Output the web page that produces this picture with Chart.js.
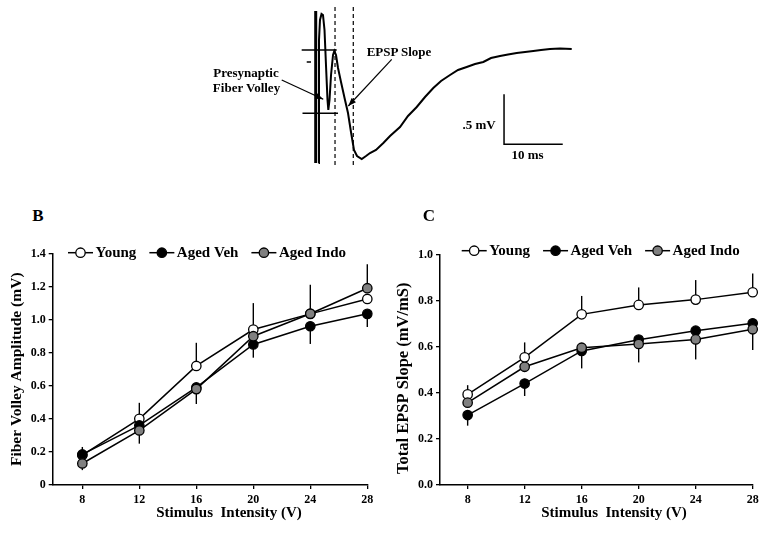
<!DOCTYPE html>
<html>
<head>
<meta charset="utf-8">
<script src="https://cdn.jsdelivr.net/npm/chart.js@4.4.1/dist/chart.umd.min.js"></script>
<style>
  body { margin: 0; background: #fff; }
  #page { position: relative; width: 771px; height: 537px; overflow: hidden;
          font-family: "Liberation Serif", "Times New Roman", serif; font-weight: bold; color: #000; }
  .box { position: absolute; }
  .lbl { position: absolute; white-space: nowrap; line-height: 1; transform: translate(-50%, -50%); }
</style>
</head>
<body>
<div id="page">
  <div class="box" style="left:200px;top:0;width:380px;height:170px"><canvas id="traceChart"></canvas></div>
  <div class="box" style="left:0;top:235px;width:385px;height:302px"><canvas id="fvChart"></canvas></div>
  <div class="box" style="left:385px;top:235px;width:386px;height:302px"><canvas id="slopeChart"></canvas></div>

  <div class="lbl" style="left:246px;top:72px;font-size:13px">Presynaptic</div>
  <div class="lbl" style="left:246.5px;top:87px;font-size:13px">Fiber Volley</div>
  <div class="lbl" style="left:399px;top:51px;font-size:13px">EPSP Slope</div>
  <div class="lbl" style="left:479px;top:124px;font-size:13px">.5 mV</div>
  <div class="lbl" style="left:527.5px;top:154px;font-size:13px">10 ms</div>

  <div class="lbl" style="left:38px;top:214.5px;font-size:17px">B</div>
  <div class="lbl" style="left:429px;top:214.5px;font-size:17px">C</div>
  <div class="lbl" style="left:229px;top:512px;font-size:15px">Stimulus&nbsp; Intensity (V)</div>
  <div class="lbl" style="left:614px;top:512px;font-size:15px">Stimulus&nbsp; Intensity (V)</div>
</div>

<script>
// --- A: example field potential trace (ms, mV) ---
const traceMs = [0.6, 0.68, 0.85, 1.11, 1.36, 1.62, 1.87, 2.13, 2.27, 2.47, 2.73, 3.07, 3.29, 3.58, 3.92,
  4.43, 5.11, 5.62, 6.13, 6.64, 7.16, 7.96, 8.69, 9.37, 10.39, 11.64, 12.78, 14.48, 15.84, 17.33,
  18.74, 20.15, 21.47, 23.0, 24.36, 25.84, 27.26, 28.67, 29.98, 31.52, 32.88, 34.36, 35.78, 37.19,
  38.5, 40.03, 41.74, 43.73];
const traceMv = [-1.15, 0.08, 0.28, 0.34, 0.33, 0.18, -0.17, -0.52, -0.62, -0.52, -0.27, -0.07, -0.03, -0.07, -0.20,
  -0.34, -0.52, -0.65, -0.84, -1.02, -1.08, -1.11, -1.08, -1.05, -1.02, -0.95, -0.88, -0.79, -0.68, -0.59,
  -0.49, -0.40, -0.33, -0.27, -0.22, -0.19, -0.16, -0.14, -0.10, -0.08, -0.065, -0.05, -0.04, -0.03,
  -0.02, -0.01, -0.005, -0.01];
const artifactMs = [0.12, 0.12];
const artifactMv = [0.37, -1.15];
const fvCursorMs = [3.41, 3.41];
const slopeCursorMs = [6.52, 6.52];
const cursorMv = [0.41, -1.17];
const fvTopMs = [-2.27, 3.70];
const fvTopMv = [-0.02, -0.02];
const fvBottomMs = [-2.13, 3.92];
const fvBottomMv = [-0.653, -0.653];
const stimMarkMs = [-1.41, -0.68];
const stimMarkMv = [-0.14, -0.14];
const scaleBarMs = [32.2, 32.2, 42.2];
const scaleBarMv = [-0.463, -0.963, -0.963];
const fvArrowMs = [-5.67, 1.41];
const fvArrowMv = [-0.32, -0.513];
const slopeArrowMs = [13.07, 5.67];
const slopeArrowMv = [-0.113, -0.58];

// --- B and C: input/output curves ---
const intensity = [8, 12, 16, 20, 24, 28];
const xTickValues = [8, 12, 16, 20, 24, 28];
const groups = ['Young', 'Aged Veh', 'Aged Indo'];

const fvYoung = [0.18, 0.40, 0.72, 0.94, 1.035, 1.125];
const fvAgedVeh = [0.185, 0.36, 0.59, 0.85, 0.96, 1.035];
const fvAgedIndo = [0.13, 0.33, 0.58, 0.90, 1.036, 1.19];
// signed error bars: + drawn upward, - drawn downward, 0 none
const fvErrYoung = [0, 0.097, 0.14, 0.16, 0, 0];
const fvErrAgedVeh = [0.045, 0, 0, -0.08, -0.107, -0.08];
const fvErrAgedIndo = [-0.04, -0.08, -0.09, 0, 0.175, 0.145];
const fvTicks = [0, 0.2, 0.4, 0.6, 0.8, 1.0, 1.2, 1.4];

const slopeYoung = [0.394, 0.555, 0.742, 0.783, 0.806, 0.838];
const slopeAgedVeh = [0.304, 0.441, 0.583, 0.632, 0.671, 0.703];
const slopeAgedIndo = [0.358, 0.514, 0.597, 0.613, 0.633, 0.677];
const slopeErrYoung = [0.04, 0.065, 0.08, 0.076, 0.085, 0.082];
const slopeErrAgedVeh = [-0.046, -0.054, -0.076, 0, 0, 0];
const slopeErrAgedIndo = [0, 0, 0, -0.08, -0.087, -0.09];
const slopeTicks = [0, 0.2, 0.4, 0.6, 0.8, 1.0];

Chart.defaults.font.family = '"Liberation Serif", "Times New Roman", serif';
Chart.defaults.font.weight = 'bold';
Chart.defaults.color = '#000';

const zip = (xs, ys) => xs.map((x, i) => ({ x: x, y: ys[i] }));

// arrow heads at the end of datasets flagged with arrow: true
const arrowHeads = {
  id: 'arrowHeads',
  afterDatasetsDraw(chart) {
    const ctx = chart.ctx;
    chart.data.datasets.forEach((ds, i) => {
      if (!ds.arrow) return;
      const pts = chart.getDatasetMeta(i).data;
      const a = pts[pts.length - 2], b = pts[pts.length - 1];
      const ang = Math.atan2(b.y - a.y, b.x - a.x);
      ctx.save();
      ctx.translate(b.x, b.y);
      ctx.rotate(ang);
      ctx.fillStyle = '#000';
      ctx.beginPath();
      ctx.moveTo(0, 0);
      ctx.lineTo(-8, -3);
      ctx.lineTo(-8, 3);
      ctx.closePath();
      ctx.fill();
      ctx.restore();
    });
  }
};

const seg = (ms, mv, extra) => Object.assign({
  data: zip(ms, mv), borderColor: '#000', borderWidth: 1.4, pointRadius: 0, showLine: true, clip: false
}, extra || {});

new Chart(document.getElementById('traceChart'), {
  type: 'scatter',
  data: {
    datasets: [
      seg(traceMs, traceMv, { borderWidth: 2 }),
      seg(artifactMs, artifactMv, { borderWidth: 3 }),
      seg(fvCursorMs, cursorMv, { borderWidth: 1.2, borderDash: [4, 3] }),
      seg(slopeCursorMs, cursorMv, { borderWidth: 1.2, borderDash: [4, 3] }),
      seg(fvTopMs, fvTopMv, { borderWidth: 1.5 }),
      seg(fvBottomMs, fvBottomMv, { borderWidth: 1.5 }),
      seg(stimMarkMs, stimMarkMv, { borderWidth: 1.5 }),
      seg(scaleBarMs, scaleBarMv, { borderWidth: 1.5 }),
      seg(fvArrowMs, fvArrowMv, { borderWidth: 1.2, arrow: true }),
      seg(slopeArrowMs, slopeArrowMv, { borderWidth: 1.2, arrow: true })
    ]
  },
  options: {
    responsive: true,
    maintainAspectRatio: false,
    animation: false,
    layout: { padding: 0 },
    plugins: { legend: { display: false }, tooltip: { enabled: false } },
    scales: {
      x: { type: 'linear', min: -19.59, max: 45.14, display: false },
      y: { type: 'linear', min: -1.22, max: 0.48, display: false }
    }
  },
  plugins: [arrowHeads]
});

// vertical SEM bars
const errorBars = {
  id: 'errorBars',
  beforeDatasetsDraw(chart) {
    const { ctx, scales: { x, y } } = chart;
    ctx.save();
    ctx.strokeStyle = '#000';
    ctx.lineWidth = 1.4;
    chart.data.datasets.forEach(ds => {
      ds.data.forEach((p, i) => {
        const e = ds.errors[i];
        if (!e) return;
        const px = x.getPixelForValue(p.x);
        ctx.beginPath();
        ctx.moveTo(px, y.getPixelForValue(p.y));
        ctx.lineTo(px, y.getPixelForValue(p.y + e));
        ctx.stroke();
      });
    });
    ctx.restore();
  }
};

// legend drawn across the top edge of the plot, like the original figure
const lineLegend = {
  id: 'lineLegend',
  afterDraw(chart, args, opts) {
    const { ctx, chartArea } = chart;
    let x = chartArea.left + opts.dx;
    const y = chartArea.top + opts.dy;
    ctx.save();
    ctx.font = 'bold 15px "Liberation Serif", "Times New Roman", serif';
    ctx.textBaseline = 'middle';
    chart.data.datasets.forEach(ds => {
      ctx.strokeStyle = '#000';
      ctx.lineWidth = 1.5;
      ctx.beginPath();
      ctx.moveTo(x, y);
      ctx.lineTo(x + 25, y);
      ctx.stroke();
      ctx.beginPath();
      ctx.arc(x + 12.5, y, 4.7, 0, Math.PI * 2);
      ctx.fillStyle = ds.pointBackgroundColor;
      ctx.fill();
      ctx.lineWidth = 1.3;
      ctx.stroke();
      ctx.fillStyle = '#000';
      ctx.fillText(ds.label, x + 27.5, y);
      x += 27.5 + ctx.measureText(ds.label).width + 13;
    });
    ctx.restore();
  }
};

const fills = ['#ffffff', '#000000', '#808080'];
const drawOrder = [2, 1, 0];

function groupSets(series, errs) {
  return groups.map((g, i) => ({
    label: g,
    data: zip(intensity, series[i]),
    errors: errs[i],
    borderColor: '#000',
    borderWidth: 1.5,
    pointRadius: 4.7,
    pointBorderWidth: 1.3,
    pointBorderColor: '#000',
    pointBackgroundColor: fills[i],
    order: drawOrder[i],
    tension: 0,
    clip: false
  }));
}

function ioOptions(cfg) {
  return {
    responsive: true,
    maintainAspectRatio: false,
    animation: false,
    layout: { padding: { top: cfg.top, right: cfg.right, left: 0, bottom: 0 } },
    plugins: {
      legend: { display: false },
      tooltip: { enabled: false },
      lineLegend: { dx: cfg.legendDx, dy: cfg.legendDy }
    },
    scales: {
      x: {
        type: 'linear', min: cfg.xMin, max: 28,
        afterBuildTicks: s => { s.ticks = xTickValues.map(v => ({ value: v })); },
        afterFit: s => { s.height = cfg.xHeight; },
        ticks: { autoSkip: false, maxRotation: 0, padding: 4, font: { size: 12, weight: 'bold' }, color: '#000' },
        grid: { display: true, drawOnChartArea: false, drawTicks: true, tickLength: 4, color: '#000', lineWidth: 1.3 },
        border: { display: true, color: '#000', width: 1.5 }
      },
      y: {
        type: 'linear', min: 0, max: cfg.yMax,
        afterBuildTicks: s => { s.ticks = cfg.yTicks.map(v => ({ value: v })); },
        afterFit: s => { s.width = cfg.yWidth; },
        ticks: { autoSkip: false, padding: 3, font: { size: 12, weight: 'bold' }, color: '#000', callback: cfg.tickFmt },
        grid: { display: true, drawOnChartArea: false, drawTicks: true, tickLength: 4, color: '#000', lineWidth: 1.3 },
        border: { display: true, color: '#000', width: 1.5 },
        title: { display: true, text: cfg.yTitle, color: '#000', font: { size: cfg.titleSize, weight: 'bold' }, padding: { top: cfg.titlePad, bottom: 0 } }
      }
    }
  };
}

new Chart(document.getElementById('fvChart'), {
  type: 'line',
  data: { datasets: groupSets([fvYoung, fvAgedVeh, fvAgedIndo], [fvErrYoung, fvErrAgedVeh, fvErrAgedIndo]) },
  options: ioOptions({
    top: 18.5, right: 17.7, xMin: 5.92, xHeight: 52, yWidth: 52.7, yMax: 1.4, yTicks: fvTicks,
    tickFmt: v => (v === 0 ? '0' : v.toFixed(1)), yTitle: 'Fiber Volley Amplitude (mV)',
    titleSize: 15.5, titlePad: 7.4, legendDx: 15.3, legendDy: -0.8
  }),
  plugins: [errorBars, lineLegend]
});

new Chart(document.getElementById('slopeChart'), {
  type: 'line',
  data: { datasets: groupSets([slopeYoung, slopeAgedVeh, slopeAgedIndo], [slopeErrYoung, slopeErrAgedVeh, slopeErrAgedIndo]) },
  options: ioOptions({
    top: 20, right: 18.3, xMin: 6.06, xHeight: 52, yWidth: 55, yMax: 1.0, yTicks: slopeTicks,
    tickFmt: v => v.toFixed(1), yTitle: 'Total EPSP Slope (mV/mS)    ',
    titleSize: 16.5, titlePad: 8.4, legendDx: 21.7, legendDy: -4.3
  }),
  plugins: [errorBars, lineLegend]
});
</script>
</body>
</html>
